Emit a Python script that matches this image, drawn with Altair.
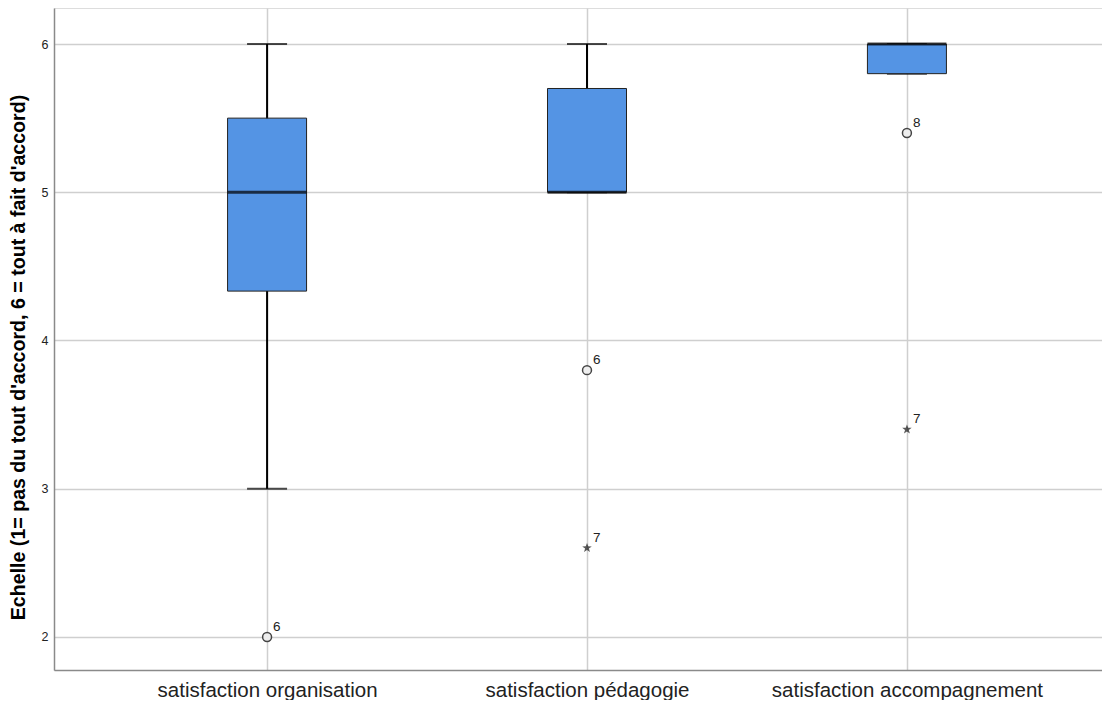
import altair as alt
import pandas as pd

categories = ["satisfaction organisation", "satisfaction pédagogie", "satisfaction accompagnement"]
whisker_low = [3.0, 5.0, 5.8]
q1 = [4.333, 5.0, 5.8]
median = [5.0, 5.0, 6.0]
q3 = [5.5, 5.7, 6.0]
whisker_high = [6.0, 6.0, 6.0]

out_cat = ["satisfaction organisation", "satisfaction pédagogie", "satisfaction pédagogie",
           "satisfaction accompagnement", "satisfaction accompagnement"]
out_val = [2.0, 3.8, 2.6, 5.4, 3.4]
out_label = ["6", "6", "7", "8", "7"]
out_kind = ["circle", "circle", "star", "circle", "star"]

y_title = "Echelle (1= pas du tout d'accord, 6 = tout à fait d'accord)"

box = pd.DataFrame({"cat": categories, "lo": whisker_low, "q1": q1, "med": median,
                    "q3": q3, "hi": whisker_high})
outl = pd.DataFrame({"cat": out_cat, "val": out_val, "lab": out_label, "kind": out_kind})

FONT = "Liberation Sans"
xenc = alt.X("cat:N", sort=categories, title=None,
             scale=alt.Scale(type="point", padding=0.666),
             axis=alt.Axis(grid=True, gridColor="#cfcfcf", gridWidth=1.5, ticks=False,
                           labelAngle=0, labelFontSize=20.5, labelColor="#222222",
                           labelFont=FONT, labelPadding=10, labelLimit=500,
                           domainColor="#8a8a8a", domainWidth=1.5))
yscale = alt.Scale(domain=[1.777, 6.243], nice=False, zero=False)
yaxis = alt.Axis(values=[2, 3, 4, 5, 6], format="d", grid=True, gridColor="#cfcfcf",
                 gridWidth=1.5, ticks=False, labelFontSize=12.5, labelColor="#222222",
                 labelFont=FONT, labelPadding=6, domainColor="#8a8a8a", domainWidth=1.5,
                 title=y_title, titleFont=FONT, titleFontSize=19.6, titleFontWeight="bold",
                 titleColor="#000000", titlePadding=13, titleLimit=800, titleY=349)

base = alt.Chart(box)
whisk = base.mark_rule(color="#000000", strokeWidth=2).encode(
    x=xenc, y=alt.Y("lo:Q", scale=yscale, axis=yaxis), y2="hi:Q")
cap_lo = base.mark_tick(color="#000000", size=40, thickness=2).encode(x=xenc, y=alt.Y("lo:Q"))
cap_hi = base.mark_tick(color="#000000", size=40, thickness=2).encode(x=xenc, y=alt.Y("hi:Q"))
bars = base.mark_bar(size=79, fill="#5494e4", stroke="#222222", strokeWidth=1).encode(
    x=xenc, y=alt.Y("q1:Q"), y2="q3:Q")
med = base.mark_tick(color="#000000", size=79, thickness=3).encode(x=xenc, y=alt.Y("med:Q"))

ob = alt.Chart(outl)
circ = ob.transform_filter("datum.kind == 'circle'").mark_point(
    shape="circle", size=80, filled=False, stroke="#444444", strokeWidth=1.5,
    fill="#eeeeee", fillOpacity=1).encode(x=xenc, y=alt.Y("val:Q"))
star = ob.transform_filter("datum.kind == 'star'").mark_point(
    shape="M0,-1L0.24,-0.33L0.95,-0.31L0.38,0.12L0.59,0.81L0,0.4L-0.59,0.81L-0.38,0.12L-0.95,-0.31L-0.24,-0.33Z",
    size=100, filled=True, color="#111111").encode(x=xenc, y=alt.Y("val:Q"))
labs = ob.mark_text(align="left", baseline="bottom", dx=6, dy=-3, fontSize=13.5,
                    font=FONT, color="#222222").encode(x=xenc, y=alt.Y("val:Q"), text="lab:N")

chart = alt.layer(whisk, cap_lo, cap_hi, bars, med, circ, star, labs).properties(
    width=1066, height=662, autosize="none",
    padding={"left": 46, "top": 0, "right": -18, "bottom": 30}
).configure_view(stroke=None).configure(background="white")

chart.save("out.html", embed_options={"renderer": "svg", "actions": False})
